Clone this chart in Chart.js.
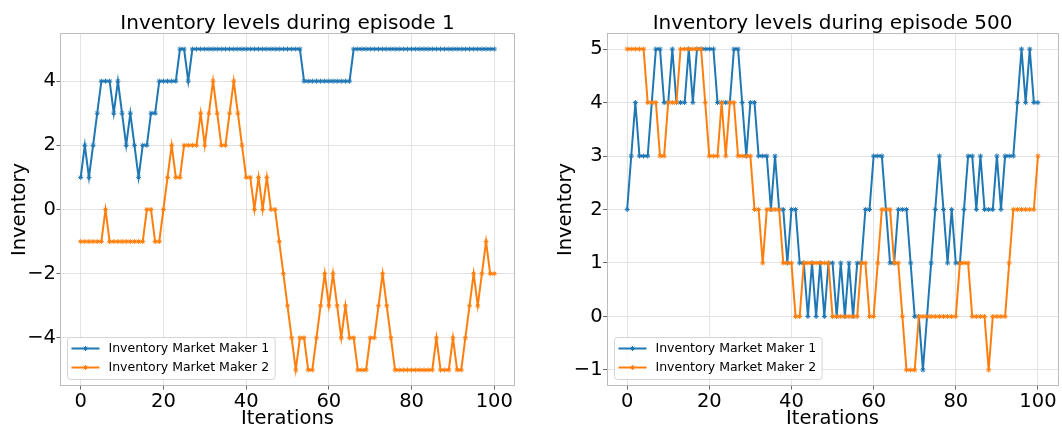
<!DOCTYPE html>
<html>
<head>
<meta charset="utf-8">
<title>Inventory levels</title>
<script src="https://cdn.jsdelivr.net/npm/chart.js@4/dist/chart.umd.min.js"></script>
<style>
  html, body { margin: 0; padding: 0; background: #ffffff; }
  #wrap { position: relative; width: 1062px; height: 427px; overflow: hidden; }
  canvas { position: absolute; top: 0; }
  #c1 { left: 0; }
  #c2 { left: 530px; }
</style>
</head>
<body>
<div id="wrap">
  <canvas id="c1" width="530" height="427"></canvas>
  <canvas id="c2" width="532" height="427"></canvas>
</div>
<script>
// Iteration index shared by both panels
const iterations = Array.from({ length: 101 }, (_, i) => i);

// Episode 1 inventory per market maker
const ep1Maker1 = [
  1, 2, 1, 2, 3, 4, 4, 4, 3, 4,
  3, 2, 3, 2, 1, 2, 2, 3, 3, 4,
  4, 4, 4, 4, 5, 5, 4, 5, 5, 5,
  5, 5, 5, 5, 5, 5, 5, 5, 5, 5,
  5, 5, 5, 5, 5, 5, 5, 5, 5, 5,
  5, 5, 5, 5, 4, 4, 4, 4, 4, 4,
  4, 4, 4, 4, 4, 4, 5, 5, 5, 5,
  5, 5, 5, 5, 5, 5, 5, 5, 5, 5,
  5, 5, 5, 5, 5, 5, 5, 5, 5, 5,
  5, 5, 5, 5, 5, 5, 5, 5, 5, 5,
  5
];
const ep1Maker2 = [
  -1, -1, -1, -1, -1, -1, 0, -1, -1, -1,
  -1, -1, -1, -1, -1, -1, 0, 0, -1, -1,
  0, 1, 2, 1, 1, 2, 2, 2, 2, 3,
  2, 3, 4, 3, 2, 2, 3, 4, 3, 2,
  1, 1, 0, 1, 0, 1, 0, 0, -1, -2,
  -3, -4, -5, -4, -4, -5, -5, -4, -3, -2,
  -3, -2, -3, -4, -3, -4, -4, -5, -5, -5,
  -4, -4, -3, -2, -3, -4, -5, -5, -5, -5,
  -5, -5, -5, -5, -5, -5, -4, -5, -5, -5,
  -4, -5, -5, -4, -3, -2, -3, -2, -1, -2,
  -2
];

// Episode 500 inventory per market maker
const ep500Maker1 = [
  2, 3, 4, 3, 3, 3, 4, 5, 5, 4,
  4, 5, 4, 4, 4, 5, 4, 5, 5, 5,
  5, 5, 4, 4, 4, 4, 5, 5, 4, 3,
  4, 4, 3, 3, 3, 2, 3, 2, 2, 1,
  2, 2, 1, 1, 0, 1, 0, 1, 0, 1,
  1, 0, 1, 0, 1, 0, 1, 1, 2, 2,
  3, 3, 3, 2, 1, 1, 2, 2, 2, 1,
  0, 0, -1, 0, 1, 2, 3, 2, 1, 2,
  1, 1, 2, 3, 3, 2, 3, 2, 2, 2,
  3, 2, 3, 3, 3, 4, 5, 4, 5, 4,
  4
];
const ep500Maker2 = [
  5, 5, 5, 5, 5, 4, 4, 4, 3, 3,
  4, 4, 4, 5, 5, 5, 5, 5, 5, 4,
  3, 3, 3, 4, 3, 4, 4, 3, 3, 3,
  3, 2, 2, 1, 2, 2, 2, 2, 1, 1,
  1, 0, 0, 1, 1, 1, 1, 1, 1, 1,
  0, 0, 0, 0, 0, 0, 0, 1, 1, 0,
  0, 1, 2, 2, 2, 1, 1, 0, -1, -1,
  -1, 0, 0, 0, 0, 0, 0, 0, 0, 0,
  0, 1, 1, 1, 0, 0, 0, 0, -1, 0,
  0, 0, 0, 1, 2, 2, 2, 2, 2, 2,
  3
];

// Axis ticks and their labels
const xTicks = [0, 20, 40, 60, 80, 100];
const xTickLabels = ['0', '20', '40', '60', '80', '100'];
const ep1YTicks = [-4, -2, 0, 2, 4];
const ep1YTickLabels = ['\u22124', '\u22122', '0', '2', '4'];
const ep500YTicks = [-1, 0, 1, 2, 3, 4, 5];
const ep500YTickLabels = ['\u22121', '0', '1', '2', '3', '4', '5'];

const seriesNames = ['Inventory Market Maker 1', 'Inventory Market Maker 2'];
const panelTitles = ['Inventory levels during episode 1', 'Inventory levels during episode 500'];

const FONT = 'DejaVu Sans';
const BLUE = '#1f77b4';
const ORANGE = '#ff7f0e';
const GRID = '#e3e3e3';
const FRAME = '#bcbcbc';
const TICK_MARK = '#666666';

Chart.defaults.font.family = FONT;
Chart.defaults.color = '#000000';

// Draws the axes frame, the panel title and a boxed legend in the lower-left corner
const panelDecor = {
  id: 'panelDecor',
  afterDatasetsDraw(chart, args, opts) {
    const { ctx, chartArea: a } = chart;
    ctx.save();

    // frame
    ctx.strokeStyle = FRAME;
    ctx.lineWidth = 1;
    ctx.strokeRect(Math.round(a.left) + 0.5, Math.round(a.top) + 0.5,
                   Math.round(a.right - a.left) - 1, Math.round(a.bottom - a.top) - 1);

    // title
    ctx.fillStyle = '#000000';
    ctx.font = '20px "' + FONT + '"';
    ctx.textAlign = 'center';
    ctx.textBaseline = 'alphabetic';
    ctx.fillText(opts.title, (a.left + a.right) / 2, 29);

    // legend
    ctx.font = '12.5px "' + FONT + '"';
    const items = chart.data.datasets;
    let textW = 0;
    items.forEach(d => { textW = Math.max(textW, ctx.measureText(d.label).width); });
    const bx = Math.round(a.left) + 7.5;
    const bh = 42;
    const by = Math.round(a.bottom) - 6.5 - bh;
    const bw = 41 + textW + 6;
    ctx.beginPath();
    ctx.roundRect(bx, by, bw, bh, 3);
    ctx.fillStyle = 'rgba(255,255,255,0.8)';
    ctx.fill();
    ctx.strokeStyle = '#d4d4d4';
    ctx.lineWidth = 1;
    ctx.stroke();

    items.forEach((d, k) => {
      const cy = by + 11 + k * 19;
      ctx.strokeStyle = d.borderColor;
      ctx.lineWidth = 2;
      ctx.beginPath();
      ctx.moveTo(bx + 4, cy);
      ctx.lineTo(bx + 32, cy);
      ctx.stroke();
      ctx.lineWidth = 1;
      Chart.helpers.drawPoint(ctx, { pointStyle: 'star', radius: 2.5, rotation: 0, borderWidth: 1 }, bx + 18, cy);
      ctx.fillStyle = '#000000';
      ctx.textAlign = 'left';
      ctx.textBaseline = 'middle';
      ctx.fillText(d.label, bx + 41, cy);
    });
    ctx.restore();
  }
};

function makeSeries(label, values, color, order) {
  return {
    label: label,
    data: iterations.map((it, k) => ({ x: it, y: values[k] })),
    borderColor: color,
    backgroundColor: color,
    borderWidth: 2,
    pointStyle: 'star',
    pointRadius: 2.5,
    pointBorderWidth: 1,
    pointBorderColor: color,
    pointHoverRadius: 2.5,
    tension: 0,
    order: order
  };
}

function makePanel(canvasId, cfg) {
  return new Chart(document.getElementById(canvasId), {
    type: 'line',
    data: {
      datasets: [
        makeSeries(seriesNames[0], cfg.maker1, BLUE, 1),
        makeSeries(seriesNames[1], cfg.maker2, ORANGE, 0)
      ]
    },
    options: {
      responsive: false,
      animation: false,
      devicePixelRatio: 1,
      layout: { padding: { top: 33, right: cfg.padRight, bottom: 0, left: 0 } },
      plugins: {
        legend: { display: false },
        tooltip: { enabled: false },
        panelDecor: { title: cfg.title }
      },
      scales: {
        x: {
          type: 'linear',
          min: -5,
          max: 105,
          afterBuildTicks: s => { s.ticks = xTicks.map(v => ({ value: v })); },
          afterFit: s => { s.height = 41; s.paddingLeft = 0; s.paddingRight = 0; },
          ticks: {
            font: { size: 19.5 },
            color: '#000000',
            padding: 1,
            maxRotation: 0,
            callback: v => xTickLabels[xTicks.indexOf(v)]
          },
          grid: { color: GRID, tickColor: TICK_MARK, tickLength: 3.5, drawTicks: true, lineWidth: 1 },
          border: { display: false },
          title: {
            display: true,
            text: 'Iterations',
            font: { size: 19.5 },
            color: '#000000',
            padding: { top: 0, bottom: -4 }
          }
        },
        y: {
          type: 'linear',
          min: cfg.yMin,
          max: cfg.yMax,
          afterBuildTicks: s => { s.ticks = cfg.yTicks.map(v => ({ value: v })); },
          afterFit: s => { s.width = cfg.yWidth; s.paddingTop = 0; s.paddingBottom = 0; },
          ticks: {
            font: { size: 19.5 },
            color: '#000000',
            padding: 0.5,
            callback: v => cfg.yTickLabels[cfg.yTicks.indexOf(v)]
          },
          grid: { color: GRID, tickColor: TICK_MARK, tickLength: 3.5, drawTicks: true, lineWidth: 1 },
          border: { display: false },
          title: {
            display: true,
            text: 'Inventory',
            font: { size: 19.5 },
            color: '#000000',
            padding: { top: cfg.yTitlePad, bottom: 0 }
          }
        }
      }
    },
    plugins: [panelDecor]
  });
}

makePanel('c1', {
  maker1: ep1Maker1, maker2: ep1Maker2, title: panelTitles[0],
  yMin: -5.5, yMax: 5.5, yTicks: ep1YTicks, yTickLabels: ep1YTickLabels,
  yWidth: 60, yTitlePad: 7.8, padRight: 15
});

makePanel('c2', {
  maker1: ep500Maker1, maker2: ep500Maker2, title: panelTitles[1],
  yMin: -1.3, yMax: 5.3, yTicks: ep500YTicks, yTickLabels: ep500YTickLabels,
  yWidth: 76.6, yTitlePad: 24.3, padRight: 0
});
</script>
</body>
</html>
